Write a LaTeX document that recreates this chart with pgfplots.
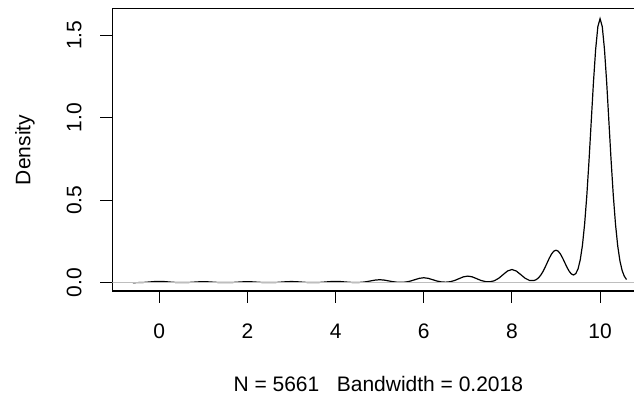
\documentclass[border=0pt]{standalone}
\usepackage{pgfplots}
\pgfplotsset{compat=1.18}
\usepackage{fontspec}
\setmainfont{Liberation Sans}
\definecolor{rgray}{RGB}{190,190,190}
\pgfplotstableread{
x y
-0.6 0.0001
-0.5 0.0004
-0.4 0.0011
-0.3 0.0026
-0.2 0.0049
-0.1 0.0071
0.0 0.0080
0.1 0.0071
0.2 0.0049
0.3 0.0027
0.4 0.0012
0.5 0.0007
0.6 0.0009
0.7 0.0020
0.8 0.0037
0.9 0.0053
1.0 0.0060
1.1 0.0053
1.2 0.0037
1.3 0.0020
1.4 0.0009
1.5 0.0006
1.6 0.0009
1.7 0.0020
1.8 0.0037
1.9 0.0053
2.0 0.0060
2.1 0.0053
2.2 0.0037
2.3 0.0020
2.4 0.0009
2.5 0.0006
2.6 0.0011
2.7 0.0023
2.8 0.0043
2.9 0.0062
3.0 0.0070
3.1 0.0062
3.2 0.0043
3.3 0.0023
3.4 0.0011
3.5 0.0007
3.6 0.0012
3.7 0.0027
3.8 0.0049
3.9 0.0071
4.0 0.0080
4.1 0.0071
4.2 0.0049
4.3 0.0027
4.4 0.0013
4.5 0.0012
4.6 0.0026
4.7 0.0060
4.8 0.0110
4.9 0.0159
5.0 0.0180
5.1 0.0159
5.2 0.0110
5.3 0.0061
5.4 0.0029
5.5 0.0022
5.6 0.0044
5.7 0.0100
5.8 0.0184
5.9 0.0265
6.0 0.0300
6.1 0.0265
6.2 0.0184
6.3 0.0100
6.4 0.0047
6.5 0.0032
6.6 0.0060
6.7 0.0133
6.8 0.0245
6.9 0.0354
7.0 0.0400
7.1 0.0354
7.2 0.0245
7.3 0.0134
7.4 0.0066
7.5 0.0056
7.6 0.0117
7.7 0.0266
7.8 0.0490
7.9 0.0707
8.0 0.0800
8.1 0.0707
8.2 0.0490
8.3 0.0270
8.4 0.0136
8.5 0.0129
8.55 0.0184
8.6 0.0286
8.65 0.0441
8.7 0.0654
8.75 0.0915
8.8 0.1206
8.85 0.1495
8.9 0.1741
8.95 0.1911
9.0 0.1970
9.05 0.1911
9.1 0.1741
9.15 0.1495
9.2 0.1212
9.25 0.0930
9.3 0.0691
9.35 0.0526
9.4 0.0468
9.45 0.0554
9.5 0.0833
9.55 0.1379
9.6 0.2264
9.65 0.3563
9.7 0.5301
9.75 0.7426
9.8 0.9792
9.85 1.2144
9.9 1.4144
9.95 1.5520
10.0 1.6000
10.05 1.5520
10.1 1.4144
10.15 1.2144
10.2 0.9792
10.25 0.7424
10.3 0.5296
10.35 0.3552
10.4 0.2240
10.45 0.1331
10.5 0.0742
10.55 0.0390
10.6 0.0192
}\densitytable
\begin{document}
\begin{tikzpicture}[font=\fontsize{21}{25}\selectfont]
\path[use as bounding box] (0,0) rectangle (634pt,398pt);
\begin{axis}[
  at={(112.3pt,107pt)}, anchor=south west,
  scale only axis, width=521.7pt, height=282.7pt,
  xmin=-1.066, xmax=10.77, ymin=-0.0503, ymax=1.663,
  axis x line*=bottom, axis y line*=left,
  xtick={0,2,4,6,8,10}, ytick={0,0.5,1,1.5},
  tick align=outside, major tick length=12pt,
  tick style={black, line width=1.1pt},
  axis line style={line width=1.1pt, -},
  /pgf/number format/assume math mode=true,
  xticklabel style={anchor=base, yshift=-36pt},
  yticklabel style={rotate=90, anchor=base, yshift=19pt,
    /pgf/number format/.cd, fixed, fixed zerofill, precision=1},
  clip=true,
]
\addplot[black, line width=1.2pt] table[x=x, y=y] {\densitytable};
\addplot[rgray, line width=1.4pt] coordinates {(-1.066,0) (10.77,0)};
\draw[black, line width=1.1pt] (rel axis cs:0,1) -- (rel axis cs:1,1);
\end{axis}
\node[rotate=90] at (25pt,248pt) {Density};
\node at (378.3pt,14pt) {N = 5661\ \ \ Bandwidth = 0.2018};
\end{tikzpicture}
\end{document}
